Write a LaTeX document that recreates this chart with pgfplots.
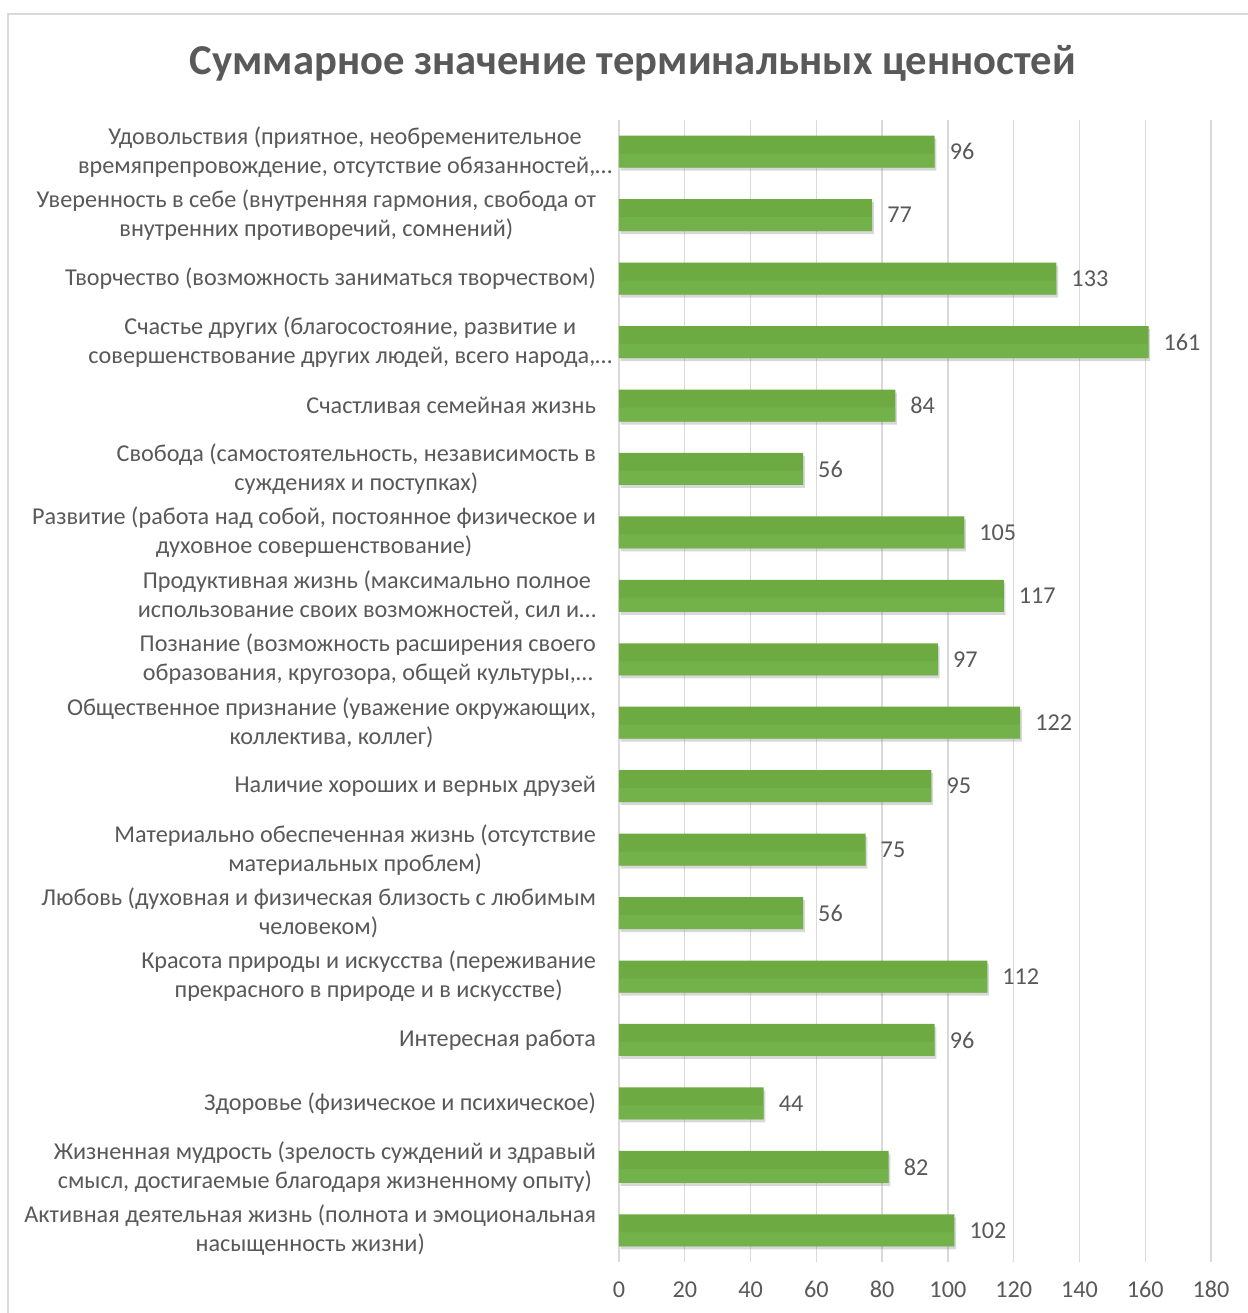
\documentclass[border=0pt]{standalone}
\usepackage{fontspec}
\setmainfont{Carlito}
\usepackage{pgfplots}
\pgfplotsset{compat=1.18}
\usetikzlibrary{shadows}
\definecolor{txt}{HTML}{595959}
\definecolor{gridc}{HTML}{D9D9D9}
\definecolor{barc}{HTML}{6DAB42}
\definecolor{barhi}{HTML}{7AB853}

\pgfplotstableread{
idx val
0 96
1 77
2 133
3 161
4 84
5 56
6 105
7 117
8 97
9 122
10 95
11 75
12 56
13 112
14 96
15 44
16 82
17 102
}\values

\begin{document}
\begin{tikzpicture}
\useasboundingbox (0,0) rectangle (624pt,656.5pt);
\fill[white] (0,0) rectangle (624pt,656.5pt);
\draw[gridc, line width=1pt] (4pt,-2pt) -- (4pt,649.5pt) -- (630pt,649.5pt);
\node[txt, font=\fontsize{21.3}{25}\selectfont\bfseries] at (316.5pt,625pt)
  {Суммарное значение терминальных ценностей};
\begin{axis}[
  at={(309.5pt,25.5pt)}, anchor=south west,
  scale only axis,
  width=296pt, height=571pt,
  xmin=0, xmax=180,
  ymin=-0.5, ymax=17.5,
  y dir=reverse,
  axis line style={draw=none},
  xtick={0,20,...,180},
  xmajorgrids,
  grid style={gridc, line width=0.7pt},
  major tick length=0pt,
  ytick={0,...,17},
  yticklabels={
    {Удовольствия (приятное, необременительное\hspace*{-8pt}\\времяпрепровождение, отсутствие обязанностей,…\hspace*{-8pt}},
    {Уверенность в себе (внутренняя гармония, свобода от\\внутренних противоречий, сомнений)},
    {Творчество (возможность заниматься творчеством)},
    {Счастье других (благосостояние, развитие и\hspace*{-8pt}\\совершенствование других людей, всего народа,…\hspace*{-8pt}},
    {Счастливая семейная жизнь},
    {Свобода (самостоятельность, независимость в\\суждениях и поступках)},
    {Развитие (работа над собой, постоянное физическое и\\духовное совершенствование)},
    {Продуктивная жизнь (максимально полное\\использование своих возможностей, сил и…},
    {Познание (возможность расширения своего\\образования, кругозора, общей культуры,…},
    {Общественное признание (уважение окружающих,\\коллектива, коллег)},
    {Наличие хороших и верных друзей},
    {Материально обеспеченная жизнь (отсутствие\\материальных проблем)},
    {Любовь (духовная и физическая близость с любимым\\человеком)},
    {Красота природы и искусства (переживание\\прекрасного в природе и в искусстве)},
    {Интересная работа},
    {Здоровье (физическое и психическое)},
    {Жизненная мудрость (зрелость суждений и здравый\\смысл, достигаемые благодаря жизненному опыту)},
    {Активная деятельная жизнь (полнота и эмоциональная\\насыщенность жизни)}
  },
  yticklabel style={txt, font=\fontsize{12.1}{14.5}\selectfont, align=center, anchor=east, xshift=-8pt},
  xticklabel style={txt, font=\fontsize{12.1}{14}\selectfont, text height=8pt, text depth=0pt, yshift=-6pt},
  /pgf/number format/assume math mode=true,
  clip=false,
]
\addplot[xbar, bar width=16pt, draw=none, fill=barc,
  drop shadow={shadow xshift=0.8pt, shadow yshift=-1.5pt, opacity=0.3},
  nodes near coords, every node near coord/.append style={txt, font=\fontsize{12.1}{14}\selectfont, anchor=west, xshift=4pt}]
  table[x=val, y=idx] {\values};
\addplot[xbar, bar width=7pt, bar shift=-4.5pt, draw=none, fill=barhi, fill opacity=0.5]
  table[x=val, y=idx] {\values};
\end{axis}
\end{tikzpicture}
\end{document}
